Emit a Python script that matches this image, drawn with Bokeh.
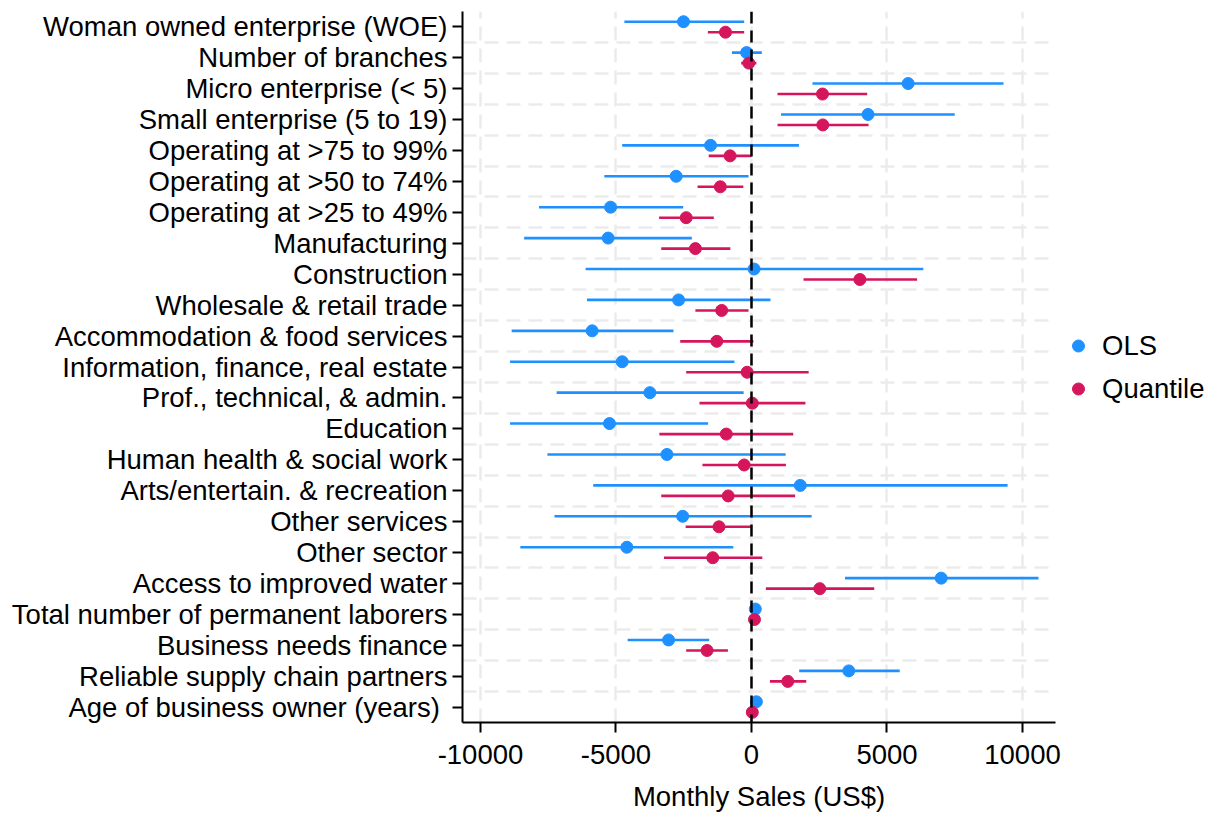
from bokeh.plotting import figure
from bokeh.models import (ColumnDataSource, FixedTicker, Range1d, Span, Legend, LegendItem)
from bokeh.transform import dodge
from bokeh.embed import file_html
from bokeh.resources import INLINE

categories = [
    "Woman owned enterprise (WOE)", "Number of branches", "Micro enterprise (< 5)",
    "Small enterprise (5 to 19)", "Operating at >75 to 99%", "Operating at >50 to 74%",
    "Operating at >25 to 49%", "Manufacturing", "Construction", "Wholesale & retail trade",
    "Accommodation & food services", "Information, finance, real estate",
    "Prof., technical, & admin.", "Education", "Human health & social work",
    "Arts/entertain. & recreation", "Other services", "Other sector",
    "Access to improved water", "Total number of permanent laborers",
    "Business needs finance", "Reliable supply chain partners",
    "Age of  business owner (years)",
]
ols_est = [-2510, -180, 5780, 4300, -1510, -2780, -5200, -5290, 95, -2690, -5880, -4770,
           -3750, -5240, -3120, 1800, -2540, -4600, 7000, 140, -3060, 3590, 180]
ols_lo = [-4690, -720, 2250, 1090, -4770, -5430, -7840, -8390, -6120, -6070, -8850, -8910,
          -7190, -8910, -7530, -5840, -7270, -8530, 3450, 80, -4570, 1760, 120]
ols_hi = [-270, 380, 9300, 7500, 1750, -110, -2520, -2200, 6340, 700, -2880, -630,
          -290, -1600, 1260, 9450, 2220, -670, 10590, 200, -1560, 5470, 240]
q_est = [-960, -100, 2620, 2630, -790, -1150, -2410, -2070, 4000, -1100, -1280, -160,
         30, -930, -270, -860, -1200, -1430, 2520, 110, -1640, 1340, 30]
q_lo = [-1610, -380, 960, 960, -1580, -1990, -3410, -3330, 1920, -2070, -2630, -2410,
        -1920, -3400, -1810, -3330, -2430, -3230, 530, 60, -2410, 680, -20]
q_hi = [-270, 180, 4270, 4320, 0, -300, -1390, -780, 6110, -110, 70, 2110,
        1990, 1540, 1270, 1610, 0, 400, 4530, 160, -870, 2020, 80]
x_ticks = [-10000, -5000, 0, 5000, 10000]
x_tick_labels = ["-10000", "-5000", "0", "5000", "10000"]
series_names = ["OLS", "Quantile"]
colors = ["#1E90FF", "#D5165C"]

n = len(categories)
pos = [n - 1 - i for i in range(n)]

FONT = "Liberation Sans"
FS = "27.5px"
GRID = "#EBEBEB"

p = figure(frame_width=593, frame_height=711, min_border_left=462, min_border_right=0,
           min_border_top=11, min_border_bottom=90,
           x_range=Range1d(-10664, 11218), y_range=Range1d(-0.5, n - 0.5),
           output_backend="svg", toolbar_location=None)
p.outline_line_color = None
p.background_fill_color = "white"

# axes
p.xaxis.ticker = FixedTicker(ticks=x_ticks)
p.xaxis.major_label_overrides = {t: l for t, l in zip(x_ticks, x_tick_labels)}
p.yaxis.ticker = FixedTicker(ticks=pos, minor_ticks=[k + 0.5 for k in range(n - 1)])
p.yaxis.major_label_overrides = {pp: c for pp, c in zip(pos, categories)}
for ax in (p.xaxis, p.yaxis):
    ax.axis_line_color = "black"
    ax.axis_line_width = 2
    ax.major_tick_line_color = "black"
    ax.major_tick_line_width = 2
    ax.major_tick_out = 10
    ax.major_tick_in = 0
    ax.minor_tick_line_color = None
    ax.major_label_text_font = FONT
    ax.major_label_text_font_size = FS
    ax.major_label_text_color = "black"
    ax.axis_label_text_font = FONT
    ax.axis_label_text_font_size = FS
    ax.axis_label_text_font_style = "normal"
    ax.axis_label_text_color = "black"
p.yaxis.major_label_standoff = 5
p.xaxis.major_label_standoff = 12
p.xaxis.axis_label = "Monthly Sales (US$)"
p.xaxis.axis_label_standoff = 14

# grids
p.xgrid.grid_line_color = GRID
p.xgrid.grid_line_width = 2.5
p.xgrid.grid_line_dash = "14 8"
p.ygrid.grid_line_color = None
p.ygrid.minor_grid_line_color = GRID
p.ygrid.minor_grid_line_width = 2.5
p.ygrid.minor_grid_line_dash = "14 8"

# zero line
p.add_layout(Span(location=0, dimension="height", line_color="black",
                  line_width=2.5, line_dash="12 7"))

src = ColumnDataSource(dict(pos=pos, ols_est=ols_est, ols_lo=ols_lo, ols_hi=ols_hi,
                            q_est=q_est, q_lo=q_lo, q_hi=q_hi))

items = []
for (est, lo, hi, off), name, col in zip(
        [("ols_est", "ols_lo", "ols_hi", 0.17), ("q_est", "q_lo", "q_hi", -0.17)],
        series_names, colors):
    yv = dodge("pos", off)
    p.segment(x0=lo, x1=hi, y0=yv, y1=yv, source=src, line_color=col, line_width=2.6)
    r = p.scatter(x=est, y=yv, source=src, size=12, fill_color=col, line_color=col)
    items.append(LegendItem(label=name, renderers=[r]))

legend = Legend(items=items, location="center_left", orientation="vertical",
                background_fill_alpha=0, border_line_color=None, padding=0, margin=0,
                glyph_width=46, glyph_height=30, label_height=30, spacing=11,
                label_standoff=1, label_text_font=FONT, label_text_font_size=FS,
                label_text_color="black")
p.add_layout(legend, "right")

open("out.html", "w").write(file_html(p, INLINE))
